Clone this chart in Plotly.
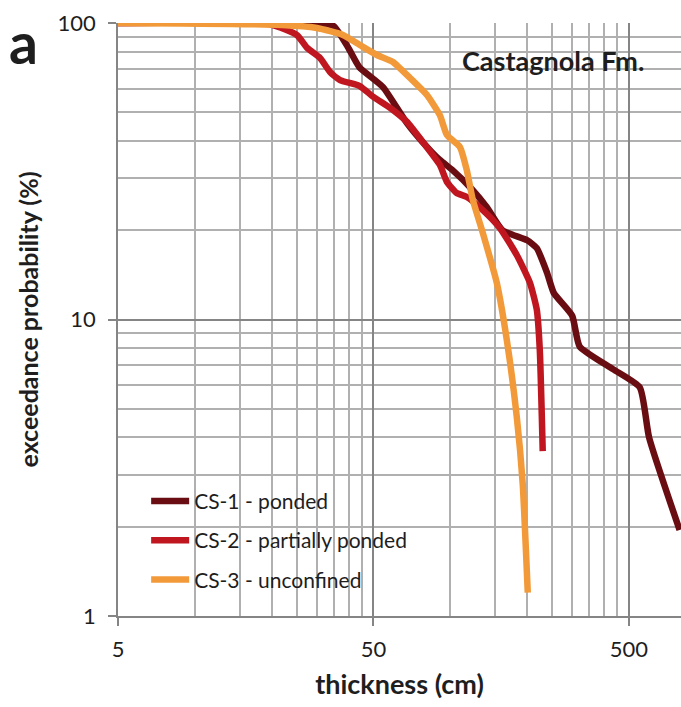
import numpy as np
import plotly.graph_objects as go

# Exceedance-probability curves of bed thickness, Castagnola Fm.
series_names = ["CS-1 - ponded", "CS-2 - partially ponded", "CS-3 - unconfined"]
series_colors = ["#6a0d12", "#bf1620", "#f29a3a"]

cs1_thickness = [5, 30, 35, 39.7, 44, 54.5, 67.6, 81, 91, 102, 122, 139, 160,
                 200, 218, 239, 254, 300, 321, 433, 552, 600, 790]
cs1_prob = [100, 100, 97.5, 83, 71, 60.8, 46, 38.2, 34.5, 31.9, 27.4, 23.9, 20,
            18.5, 17.4, 14.4, 12.3, 10.3, 8.1, 6.8, 5.9, 4.0, 1.95]

cs2_thickness = [5, 19.7, 25.1, 27.5, 30.9, 33.8, 37, 44.2, 50, 58.1, 67.6, 78,
                 91, 97, 106, 116, 134, 156, 182, 205, 218, 224, 230]
cs2_prob = [100, 99, 91, 82.4, 76.2, 68.4, 64.2, 61.3, 56.3, 51.7, 46.4, 39.7,
            33.2, 29.1, 26.7, 25.9, 23.4, 20.4, 16.5, 13.3, 10.8, 7.9, 3.6]

cs3_thickness = [5, 22, 30, 38, 44.2, 51.6, 59.6, 69.5, 81, 91, 97, 109, 116,
                 122.5, 134, 152, 166.5, 182, 192, 201]
cs3_prob = [100, 98.5, 96.2, 91.1, 84.3, 78, 73.9, 65.3, 57.2, 48.9, 41.9, 38.2,
            31.9, 25.3, 19.6, 13.3, 8.5, 4.7, 2.8, 1.2]

x_major = [5, 50, 500]
x_minor = [m * k for m in (5, 50, 500) for k in range(2, 10)]
y_major = [1, 10, 100]
y_minor = [m * k for m in (1, 10) for k in range(2, 10)]

FONT = "Lato"
TEXT = "#1e1e1e"
GRID_MAJOR = "#858585"
GRID_MINOR = "#b0b0b0"

fig = go.Figure()
for i, (xs, ys) in enumerate([(cs1_thickness, cs1_prob),
                              (cs2_thickness, cs2_prob),
                              (cs3_thickness, cs3_prob)]):
    fig.add_trace(go.Scatter(
        x=xs, y=ys, mode="lines", name=series_names[i],
        legendgroup=f"g{i}",
        line=dict(color=series_colors[i], width=6.5, shape="spline", smoothing=0.5),
        hoverinfo="skip",
    ))

# white panel behind the legend
fig.add_shape(type="rect", xref="paper", yref="paper",
              x0=0.004, x1=0.572, y0=0.0185, y1=0.236,
              fillcolor="white", line=dict(width=0), layer="between")

fig.update_layout(
    width=681, height=707,
    margin=dict(l=118, r=0, t=23, b=91),
    paper_bgcolor="white", plot_bgcolor="white",
    font=dict(family=FONT, color=TEXT),
    showlegend=True,
    legend=dict(
        x=0.05, y=0.228, xanchor="left", yanchor="top",
        bgcolor="rgba(0,0,0,0)", borderwidth=0,
        font=dict(family=FONT, size=21, color=TEXT),
        tracegroupgap=9, itemwidth=38,
    ),
    annotations=[
        dict(text="<b>a</b>", xref="paper", yref="paper", x=-0.198, y=0.968,
             xanchor="left", yanchor="middle", showarrow=False,
             font=dict(family=FONT, size=57, color=TEXT)),
        dict(text="<b>Castagnola Fm.</b>", xref="paper", yref="paper",
             x=0.607, y=0.9376, xanchor="left", yanchor="middle", showarrow=False,
             font=dict(family=FONT, size=27, color=TEXT)),
    ],
)

fig.update_xaxes(
    type="log", range=[np.log10(5), np.log10(800)],
    tickmode="array", tickvals=x_major, ticktext=[str(v) for v in x_major],
    ticks="outside", ticklen=8, tickcolor=GRID_MAJOR, tickwidth=1.5,
    ticklabelstandoff=5,
    tickfont=dict(family=FONT, size=22, color=TEXT),
    showgrid=True, gridcolor=GRID_MAJOR, gridwidth=1.5,
    showline=True, linecolor=GRID_MAJOR, linewidth=1.5,
    minor=dict(tickmode="array", tickvals=x_minor, showgrid=True,
               gridcolor=GRID_MINOR, gridwidth=1.5, ticks=""),
    title=dict(text="<b>thickness (cm)</b>", standoff=14,
               font=dict(family=FONT, size=27, color=TEXT)),
    zeroline=False,
)
fig.update_yaxes(
    type="log", range=[0, 2],
    tickmode="array", tickvals=y_major, ticktext=[str(v) for v in y_major],
    ticks="outside", ticklen=8, tickcolor=GRID_MAJOR, tickwidth=1.5,
    ticklabelstandoff=8,
    tickfont=dict(family=FONT, size=22, color=TEXT),
    showgrid=True, gridcolor=GRID_MAJOR, gridwidth=1.5,
    showline=True, linecolor=GRID_MAJOR, linewidth=1.5,
    minor=dict(tickmode="array", tickvals=y_minor, showgrid=True,
               gridcolor=GRID_MINOR, gridwidth=1.5, ticks=""),
    title=dict(text="<b>exceedance probability (%)</b>", standoff=12,
               font=dict(family=FONT, size=25, color=TEXT)),
    zeroline=False,
)

fig.write_html("out.html")
